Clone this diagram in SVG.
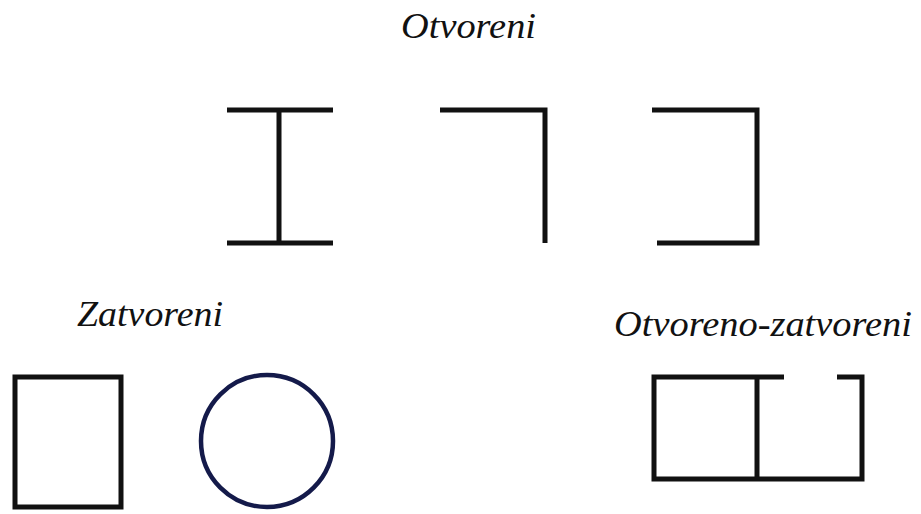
<svg xmlns="http://www.w3.org/2000/svg" width="921" height="514" viewBox="0 0 921 514">
<style>
.t{font-family:"Liberation Serif","Times New Roman",serif;font-style:italic;font-size:35px;fill:#111}
.s{fill:none;stroke:#111;stroke-width:5}
</style>
<rect width="921" height="514" fill="#fff"/>
<g id="label-otvoreni"><text class="t" x="401" y="38" textLength="135" lengthAdjust="spacingAndGlyphs">Otvoreni</text></g>
<g id="label-zatvoreni"><text class="t" x="77" y="326" textLength="146" lengthAdjust="spacingAndGlyphs">Zatvoreni</text></g>
<g id="label-oz"><text class="t" x="614" y="336" textLength="298" lengthAdjust="spacingAndGlyphs">Otvoreno-zatvoreni</text></g>
<g id="i-beam"><path class="s" d="M227 110H333M279 110V243M227 243H333"/></g>
<g id="corner"><path class="s" d="M440 110H545V243"/></g>
<g id="bracket"><path class="s" d="M652 110H757V243H657"/></g>
<g id="rect"><rect class="s" x="15" y="377" width="106" height="130"/></g>
<g id="circle"><circle cx="267" cy="441" r="66" fill="none" stroke="#141a4a" stroke-width="4.5"/></g>
<g id="open-closed"><path class="s" d="M784 377H654V479H862V377H837M757 377V479"/></g>
</svg>
